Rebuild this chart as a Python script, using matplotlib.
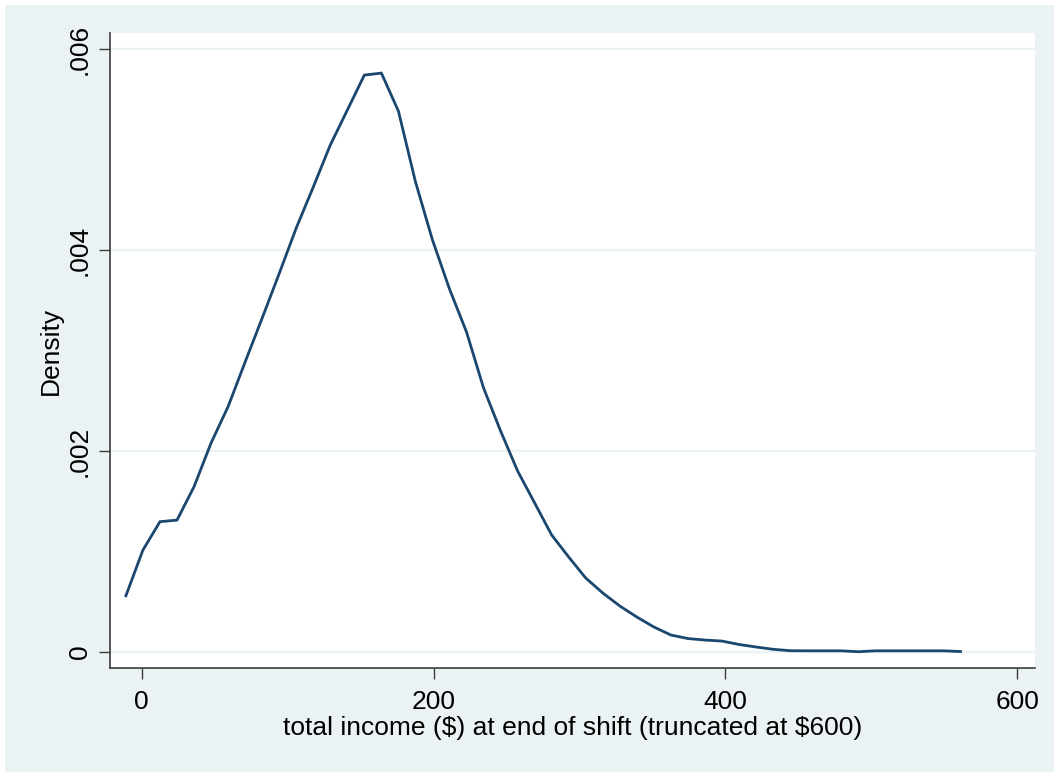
import numpy as np
import matplotlib.pyplot as plt
from matplotlib.patches import Rectangle

plt.rcParams['font.family'] = ['Liberation Sans', 'DejaVu Sans']

# kernel density estimate of total income (50 grid points)
x_start = -10.8
x_step = 11.67
density = [
    0.000560, 0.001015, 0.001297, 0.001313, 0.001645, 0.002080, 0.002442, 0.002886,
    0.003323, 0.003766, 0.004219, 0.004627, 0.005045, 0.005393, 0.005741, 0.005761,
    0.005383, 0.004680, 0.004100, 0.003612, 0.003184, 0.002627, 0.002199, 0.001801,
    0.001483, 0.001164, 0.000945, 0.000736, 0.000587, 0.000458, 0.000348, 0.000249,
    0.000169, 0.000134, 0.000119, 0.000109, 0.000075, 0.000050, 0.000027, 0.000013,
    0.000012, 0.000012, 0.000012, 0.000003, 0.000012, 0.000012, 0.000012, 0.000012,
    0.000012, 0.000005,
]
income = x_start + x_step * np.arange(len(density))

x_ticks = [0, 200, 400, 600]
y_ticks = [0, 0.002, 0.004, 0.006]
y_tick_labels = ["0", ".002", ".004", ".006"]

bg = "#EAF2F3"
line_color = "#1A476F"
axis_color = "#3C3C3C"

fig = plt.figure(figsize=(10.54, 7.72), dpi=100, facecolor=bg)
# thin white margin on top and left like the exported Stata graph
fig.patches.append(Rectangle((0, 1 - 5 / 772), 1, 5 / 772, transform=fig.transFigure,
                             facecolor="white", edgecolor="none", zorder=-1))
fig.patches.append(Rectangle((0, 0), 5 / 1054, 1, transform=fig.transFigure,
                             facecolor="white", edgecolor="none", zorder=-1))

ax = fig.add_axes([110 / 1054, 1 - 668 / 772, 925 / 1054, 635 / 772])
ax.set_facecolor("white")

ax.plot(income, density, color=line_color, linewidth=2.0, solid_joinstyle="miter", zorder=3)

ax.set_xlim(-21.7, 612.1)
ax.set_ylim(-0.000159, 0.00616)
ax.set_xticks(x_ticks)
ax.set_yticks(y_ticks)
ax.set_yticklabels(y_tick_labels, rotation=90, va="center")

ax.grid(axis="y", color=bg, linewidth=1.6, zorder=1)
ax.set_axisbelow(True)

for side in ["top", "right"]:
    ax.spines[side].set_visible(False)
for side in ["left", "bottom"]:
    ax.spines[side].set_color(axis_color)
    ax.spines[side].set_linewidth(1.2)

ax.tick_params(axis="both", direction="out", length=8, width=1.0, color=axis_color,
               labelsize=19, labelcolor="black")
ax.tick_params(axis="y", pad=5)
ax.tick_params(axis="x", pad=8)

ax.set_xlabel(r"total income (\$) at end of shift (truncated at \$600)", fontsize=19, labelpad=1)
ax.set_ylabel("Density", fontsize=19, labelpad=4)

fig.savefig("out.png", dpi=100, facecolor=fig.get_facecolor())
